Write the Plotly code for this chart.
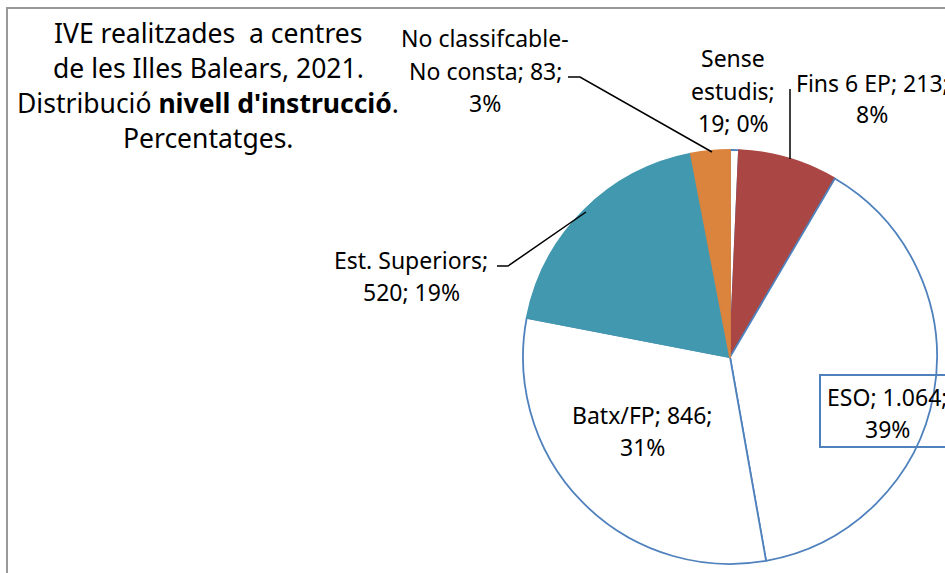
import plotly.graph_objects as go

categories = ["Sense estudis", "Fins 6 EP", "ESO", "Batx/FP", "Est. Superiors", "No classifcable-No consta"]
values = [19, 213, 1064, 846, 520, 83]
pct_labels = ["0%", "8%", "39%", "31%", "19%", "3%"]
value_labels = ["19", "213", "1.064", "846", "520", "83"]
fill_colors = ["#FFFFFF", "#AA4643", "#FFFFFF", "#FFFFFF", "#4198AF", "#DB843D"]
line_colors = ["#4F81BD", "#AA4643", "#4F81BD", "#4F81BD", "#4198AF", "#DB843D"]

W, H = 945, 573
def px(x): return x / W
def py(y): return 1 - y / H

fig = go.Figure()
fig.add_trace(go.Pie(
    labels=categories, values=values, sort=False, direction="clockwise", rotation=0,
    marker=dict(colors=fill_colors, line=dict(color=line_colors, width=1.8)),
    textinfo="none", hoverinfo="label+value+percent", showlegend=False,
    domain=dict(x=[px(523), px(937)], y=[py(564), py(150)]),
))

lab_font = dict(family="Noto Sans, Open Sans, sans-serif", size=23, color="#000000")
ann = []
def add_lines(lines, x, ys, font=lab_font):
    for t, y in zip(lines, ys):
        ann.append(dict(text=t, x=px(x), y=py(y), xref="paper", yref="paper", showarrow=False,
                        font=font, align="center", xanchor="center", yanchor="middle"))

add_lines(["No classifcable-", f"No consta; {value_labels[5]};", pct_labels[5]], 485, [38, 71, 103])
add_lines(["Sense", "estudis;", f"{value_labels[0]}; {pct_labels[0]}"], 733, [58, 91, 123])
add_lines([f"Fins 6 EP; {value_labels[1]};", pct_labels[1]], 872, [83, 114])
add_lines([f"Est. Superiors;", f"{value_labels[4]}; {pct_labels[4]}"], 411, [260, 292])
add_lines([f"Batx/FP; {value_labels[3]};", pct_labels[3]], 642, [415, 447])
add_lines([f"ESO; {value_labels[2]};", pct_labels[2]], 887, [397, 429])

title_font = dict(family="Noto Sans, Open Sans, sans-serif", size=26.5, color="#000000")
add_lines(["IVE realitzades  a centres", "de les Illes Balears, 2021.",
           "Distribució <b>nivell d'instrucció</b>.", "Percentatges."],
          208, [33, 68, 103, 138], font=title_font)

shapes = [
    dict(type="rect", xref="paper", yref="paper", x0=px(7), y0=-0.1, x1=1.1, y1=py(8),
         line=dict(color="#999999", width=2), fillcolor="rgba(0,0,0,0)", layer="below"),
    dict(type="rect", xref="paper", yref="paper", x0=px(820), y0=py(447), x1=px(975), y1=py(375),
         line=dict(color="#4F81BD", width=2), fillcolor="rgba(0,0,0,0)"),
    dict(type="path", xref="paper", yref="paper",
         path=f"M {px(568)} {py(77)} L {px(580)} {py(77)} L {px(712)} {py(152)}",
         line=dict(color="#000000", width=1.5)),
    dict(type="path", xref="paper", yref="paper",
         path=f"M {px(790)} {py(89)} L {px(790)} {py(159)}",
         line=dict(color="#000000", width=1.5)),
    dict(type="path", xref="paper", yref="paper",
         path=f"M {px(497)} {py(266)} L {px(508)} {py(266)} L {px(586)} {py(212)}",
         line=dict(color="#000000", width=1.5)),
]

fig.update_layout(
    width=W, height=H, autosize=False,
    margin=dict(l=0, r=0, t=0, b=0),
    paper_bgcolor="#FFFFFF", plot_bgcolor="#FFFFFF",
    annotations=ann, shapes=shapes,
)

fig.write_html("out.html", config={"displayModeBar": False},
               post_script="document.body.style.margin='0';document.body.style.overflow='hidden';")
